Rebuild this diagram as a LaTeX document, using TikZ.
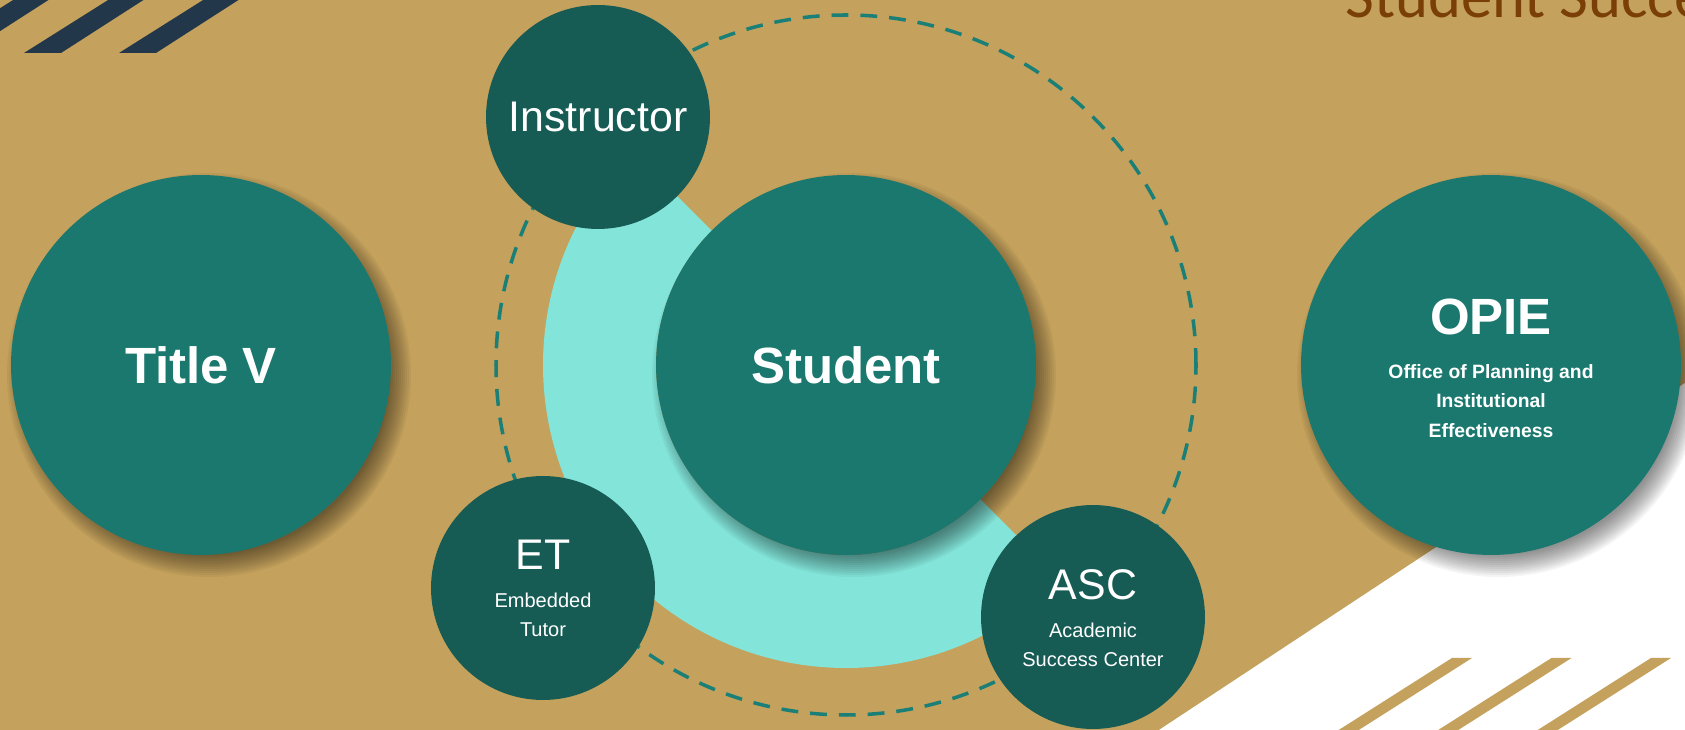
\documentclass[tikz,border=0pt]{standalone}
\usepackage{fontspec}
\setmainfont{Liberation Sans}
\newfontfamily\headfont{Carlito}

\definecolor{sand}{HTML}{C4A15C}
\definecolor{navy}{HTML}{22374A}
\definecolor{tealmid}{HTML}{1B786E}
\definecolor{tealdark}{HTML}{165B54}
\definecolor{aqua}{HTML}{83E4D9}
\definecolor{dashteal}{HTML}{1A7F77}
\definecolor{rust}{HTML}{7A3F06}

\tikzset{
  bigdisc/.style={circle, fill=tealmid, minimum size=7.6cm, inner sep=0pt,
    text=white, align=center, font=\fontsize{29}{34}\selectfont\bfseries},
  discshadow/.style={fill=black, opacity=0.045},
  smalldisc/.style={circle, fill=tealdark, minimum size=4.48cm, inner sep=0pt,
    text=white, font=\fontsize{24.4}{28}\selectfont},
  namelabel/.style={text=white, inner sep=0pt, font=\fontsize{24.4}{28}\selectfont},
  sublabel/.style={text=white, inner sep=0pt, align=center,
    font=\fontsize{11.4}{16.5}\selectfont},
  ringdash/.style={draw=dashteal, line width=2pt, dash pattern=on 9.6pt off 6.8pt},
}

\begin{document}
\begin{tikzpicture}[x=0.02cm, y=0.02cm]
  \useasboundingbox (0,0) rectangle (1685,730);
  \clip (0,0) rectangle (1685,730);
  \fill[sand] (0,0) rectangle (1685,730);

  % white wedge bottom right with its stripes
  \fill[white] (1159,0) -- (1685,347) -- (1685,0) -- cycle;
  \foreach \k in {0,1,2}{
    \fill[sand] ({1452+99.5*\k},72) -- ({1472+99.5*\k},72)
      -- ({1343+99.5*\k},-10) -- ({1323+99.5*\k},-10) -- cycle;
  }
  % stripes top left
  \foreach \k in {0,1,2}{
    \fill[navy] ({-71+95*\k},677) -- ({-34+95*\k},677)
      -- ({64+95*\k},740) -- ({29+95*\k},740) -- cycle;
  }

  \node[text=rust, inner sep=0pt, anchor=base west,
    font=\headfont\fontsize{35.7}{40}\selectfont] (heading) at (1345,712) {Student Success};

  \coordinate (hub) at (846,365);
  \draw[ringdash] (hub) circle[radius=350];

  % half ring behind the student
  \fill[aqua] (hub) ++(135:303) arc[start angle=135, end angle=315, radius=303]
    -- ++(135:113) arc[start angle=315, end angle=135, radius=190] -- cycle;

  % soft shadows under the three big discs
  \foreach \cx in {201,846,1491}
    \foreach \r in {0,...,11}
      \fill[discshadow] ({\cx+8},355) circle[radius={202-2*\r}];

  \node[bigdisc] (titlev) at (201,365) {Title V};
  \node[bigdisc] (student) at (hub) {Student};
  \node[bigdisc] (opie) at (1491,365) {};
  \node[text=white, inner sep=0pt, font=\fontsize{29}{34}\selectfont\bfseries]
    (opiename) at ([yshift=0.96cm]opie.center) {OPIE};
  \node[sublabel, font=\fontsize{11}{17}\selectfont\bfseries]
    (opiesub) at ([yshift=-0.72cm]opie.center)
    {Office of Planning and\\Institutional\\Effectiveness};

  % helpers around the ring
  \node[smalldisc] (instructor) at (598,613) {Instructor};

  \node[smalldisc] (et) at (543,142) {};
  \node[namelabel] (etname) at ([yshift=0.66cm]et.center) {ET};
  \node[sublabel] (etsub) at ([yshift=-0.53cm]et.center) {Embedded\\Tutor};

  \node[smalldisc] (asc) at (1093,113) {};
  \node[namelabel] (ascname) at ([yshift=0.64cm]asc.center) {ASC};
  \node[sublabel] (ascsub) at ([yshift=-0.56cm]asc.center) {Academic\\Success Center};
\end{tikzpicture}
\end{document}
